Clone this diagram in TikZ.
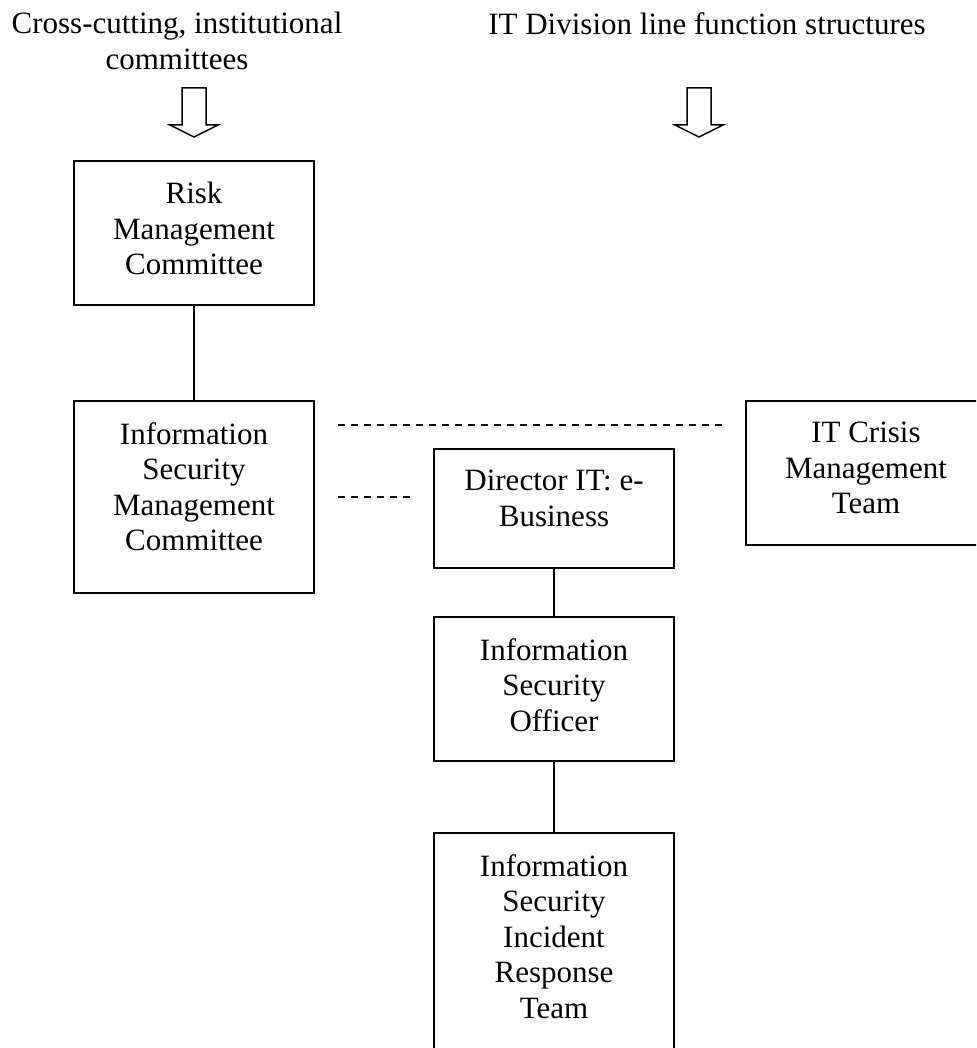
\documentclass[tikz,border=0pt]{standalone}
\usepackage{fontspec}
\setmainfont{Liberation Serif}
\usetikzlibrary{positioning}

\tikzset{
  unit/.style={draw, line width=1.8pt, inner sep=0pt, minimum width=240pt},
  txt/.style={align=center, inner sep=0pt, anchor=north, font=\fontsize{31}{35.5}\selectfont},
  link/.style={line width=1.8pt},
  dashlink/.style={line width=1.6pt, dash pattern=on 7pt off 6pt},
  blockarrow/.style={line width=1.5pt, line join=miter},
}

\begin{document}
\begin{tikzpicture}[x=1pt,y=-1pt]
	\useasboundingbox (0,0) rectangle (976,1048);
	\clip (0,0) rectangle (976,1048);
	
	% column headings
	\node[txt] (lefthead) at (177,12) {Cross-cutting, institutional\\committees};
	\node[txt] (righthead) at (707,12) {IT Division line function structures};
	
	\draw[blockarrow] (182,88) -- (206,88) -- (206,125) -- (218,125) -- (194,137) -- (170,125) -- (182,125) -- cycle;
	\draw[blockarrow] (687,88) -- (711,88) -- (711,125) -- (723,125) -- (699,137) -- (675,125) -- (687,125) -- cycle;
	
	% boxes
	\node[unit, minimum height=144pt] (risk) at (194,233) {};
	\node[unit, minimum height=192pt] (ismc) at (194,497) {};
	\node[unit, minimum height=119pt] (director) at (554,508.5) {};
	\node[unit, minimum height=144pt] (crisis) at (866,473) {};
	\node[unit, minimum height=144pt] (iso) at (554,689) {};
	\node[unit, minimum height=240pt] (irt) at (554,953) {};
	
	\node[txt, below=22pt of risk.north] (risktxt) {Risk\\Management\\Committee};
	\node[txt, below=22pt of ismc.north] (ismctxt) {Information\\Security\\Management\\Committee};
	\node[txt, below=22pt of director.north] (directortxt) {Director IT: e-\\Business};
	\node[txt, below=22pt of crisis.north] (crisistxt) {IT Crisis\\Management\\Team};
	\node[txt, below=22pt of iso.north] (isotxt) {Information\\Security\\Officer};
	\node[txt, below=22pt of irt.north] (irttxt) {Information\\Security\\Incident\\Response\\Team};
	
	% reporting lines
	\draw[link] (risk.south) -- (ismc.north);
	\draw[link] (director.south) -- (iso.north);
	\draw[link] (iso.south) -- (irt.north);
	
	% liaison lines
	\coordinate (liaisonA) at (338,425);
	\coordinate (liaisonB) at (722,425);
	\coordinate (liaisonC) at (338,497);
	\coordinate (liaisonD) at (410,497);
	\draw[dashlink] (liaisonA) -- (liaisonB);
	\draw[dashlink] (liaisonC) -- (liaisonD);
	
\end{tikzpicture}
\end{document}
